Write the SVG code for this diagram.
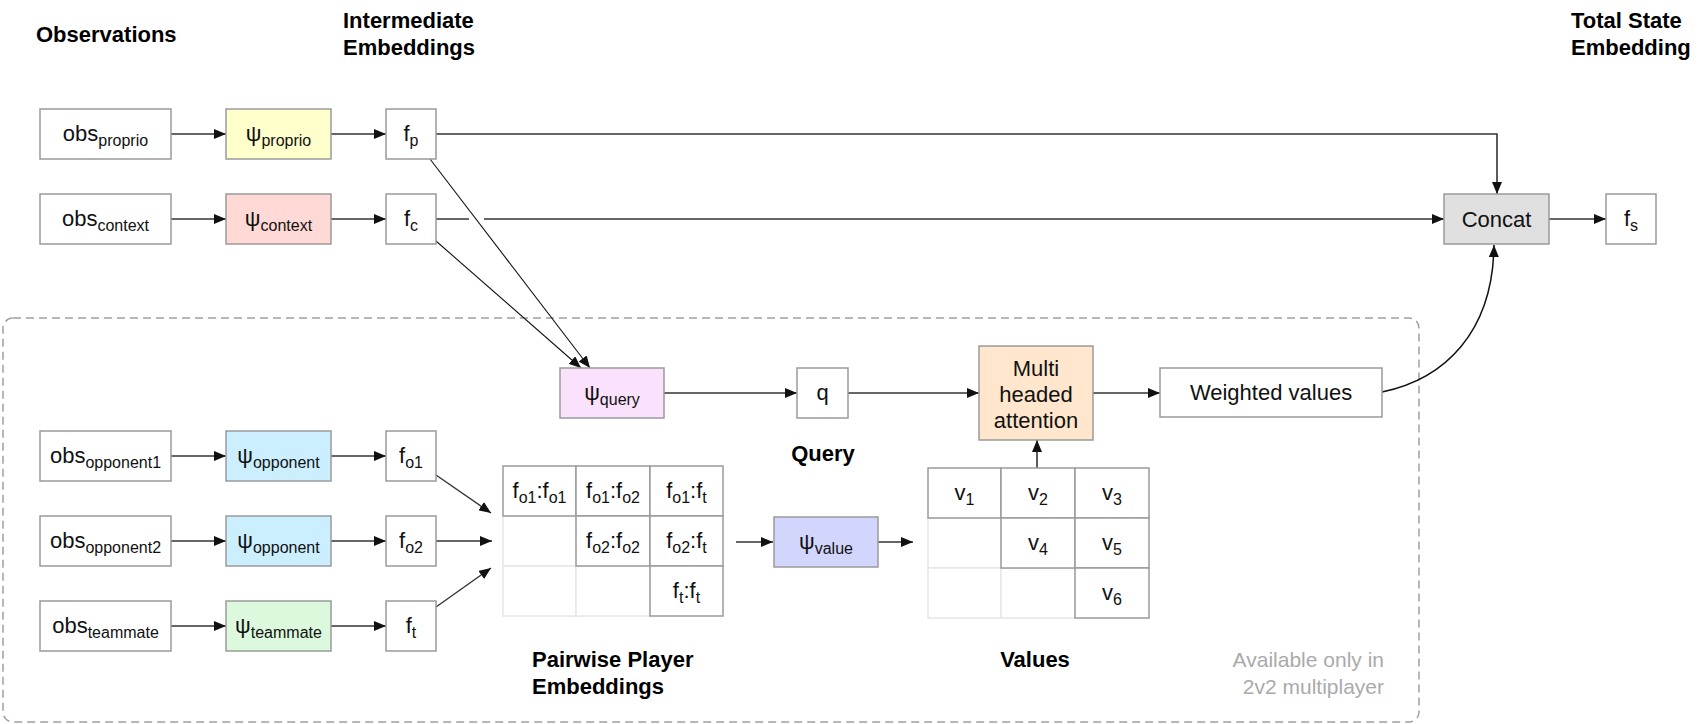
<svg xmlns="http://www.w3.org/2000/svg" width="1698" height="724" viewBox="0 0 1698 724">
<style>
.box{stroke:#9a9a9a;stroke-width:1.5}
.t{font-family:"Liberation Sans",Arial,Helvetica,sans-serif;font-size:22px;fill:#111}
.c{text-anchor:middle}
.h{font-family:"Liberation Sans",Arial,Helvetica,sans-serif;font-size:22px;font-weight:bold;fill:#000}
.g{font-family:"Liberation Sans",Arial,Helvetica,sans-serif;font-size:21px;fill:#aaa;text-anchor:end}
.s{font-size:16px}
.ln{stroke:#333;stroke-width:1.6;fill:none}
.thin{stroke:#111;stroke-width:1.1;fill:none}
.light{stroke:#e6e6e6;stroke-width:1.5;fill:#fff}
.cell{stroke:#9a9a9a;stroke-width:1.5;fill:#fff}
</style>
<defs>
<marker id="ah" viewBox="0 0 12 10" refX="12" refY="5" markerWidth="12" markerHeight="10" markerUnits="userSpaceOnUse" orient="auto">
<path d="M0,0 L12,5 L0,10 z" fill="#111"/>
</marker>
</defs>

<g id="region">
<rect x="3" y="318" width="1416" height="404" rx="10" ry="10" fill="none" stroke="#a0a0a0" stroke-width="1.5" stroke-dasharray="8 5"/>
</g>

<g id="headers">
<text class="h" x="36" y="42">Observations</text>
<text class="h" x="343" y="28">Intermediate</text>
<text class="h" x="343" y="55">Embeddings</text>
<text class="h" x="1571" y="28">Total State</text>
<text class="h" x="1571" y="55">Embedding</text>
<text class="h" x="823" y="461" text-anchor="middle">Query</text>
<text class="h" x="532" y="667">Pairwise Player</text>
<text class="h" x="532" y="694">Embeddings</text>
<text class="h" x="1035" y="667" text-anchor="middle">Values</text>
<text class="g" x="1384" y="667">Available only in</text>
<text class="g" x="1384" y="694">2v2 multiplayer</text>
</g>

<g id="connectors">
<line class="ln" x1="171" y1="134" x2="226" y2="134" marker-end="url(#ah)"/>
<line class="ln" x1="331" y1="134" x2="386" y2="134" marker-end="url(#ah)"/>
<line class="ln" x1="171" y1="219" x2="226" y2="219" marker-end="url(#ah)"/>
<line class="ln" x1="331" y1="219" x2="386" y2="219" marker-end="url(#ah)"/>
<polyline class="ln" points="436,134 1497,134 1497,194" marker-end="url(#ah)"/>
<line class="ln" x1="436" y1="219" x2="469" y2="219"/>
<line class="ln" x1="484" y1="219" x2="1444" y2="219" marker-end="url(#ah)"/>
<line class="ln" x1="1549" y1="219" x2="1606" y2="219" marker-end="url(#ah)"/>
<line class="thin" x1="430" y1="159" x2="590" y2="368" marker-end="url(#ah)"/>
<line class="thin" x1="436" y1="241" x2="581" y2="368" marker-end="url(#ah)"/>
<line class="ln" x1="664" y1="393" x2="797" y2="393" marker-end="url(#ah)"/>
<line class="ln" x1="848" y1="393" x2="979" y2="393" marker-end="url(#ah)"/>
<line class="ln" x1="1093" y1="393" x2="1160" y2="393" marker-end="url(#ah)"/>
<path class="thin" style="stroke-width:1.5" d="M1382,392 C1445,379 1493,332 1494,245" marker-end="url(#ah)"/>
<line class="ln" x1="171" y1="456" x2="226" y2="456" marker-end="url(#ah)"/>
<line class="ln" x1="331" y1="456" x2="386" y2="456" marker-end="url(#ah)"/>
<line class="ln" x1="171" y1="541" x2="226" y2="541" marker-end="url(#ah)"/>
<line class="ln" x1="331" y1="541" x2="386" y2="541" marker-end="url(#ah)"/>
<line class="ln" x1="171" y1="626" x2="226" y2="626" marker-end="url(#ah)"/>
<line class="ln" x1="331" y1="626" x2="386" y2="626" marker-end="url(#ah)"/>
<line class="ln" style="stroke-width:1.4" x1="436" y1="475" x2="491" y2="513" marker-end="url(#ah)"/>
<line class="ln" x1="436" y1="541" x2="492" y2="541" marker-end="url(#ah)"/>
<line class="ln" style="stroke-width:1.4" x1="436" y1="607" x2="491" y2="568" marker-end="url(#ah)"/>
<line class="ln" x1="736" y1="542" x2="773" y2="542" marker-end="url(#ah)"/>
<line class="ln" x1="878" y1="542" x2="913" y2="542" marker-end="url(#ah)"/>
<line class="ln" x1="1037" y1="468" x2="1037" y2="440" marker-end="url(#ah)"/>
</g>

<g id="obs_proprio"><rect class="box" x="40" y="109" width="131" height="50" fill="#fff"/><text class="t c" x="105.5" y="141">obs<tspan class="s" dy="5">proprio</tspan></text></g>
<g id="psi_proprio"><rect class="box" x="226" y="109" width="105" height="50" fill="#ffffcc"/><text class="t c" x="278.5" y="141">ψ<tspan class="s" dy="5">proprio</tspan></text></g>
<g id="f_p"><rect class="box" x="386" y="109" width="50" height="50" fill="#fff"/><text class="t c" x="411" y="141">f<tspan class="s" dy="5">p</tspan></text></g>

<g id="obs_context"><rect class="box" x="40" y="194" width="131" height="50" fill="#fff"/><text class="t c" x="105.5" y="226">obs<tspan class="s" dy="5">context</tspan></text></g>
<g id="psi_context"><rect class="box" x="226" y="194" width="105" height="50" fill="#ffd9d5"/><text class="t c" x="278.5" y="226">ψ<tspan class="s" dy="5">context</tspan></text></g>
<g id="f_c"><rect class="box" x="386" y="194" width="50" height="50" fill="#fff"/><text class="t c" x="411" y="226">f<tspan class="s" dy="5">c</tspan></text></g>

<g id="concat"><rect class="box" x="1444" y="194" width="105" height="50" fill="#e0e0e0"/><text class="t c" x="1496.5" y="227">Concat</text></g>
<g id="f_s"><rect class="box" x="1606" y="194" width="50" height="50" fill="#fff"/><text class="t c" x="1631" y="226">f<tspan class="s" dy="5">s</tspan></text></g>

<g id="psi_query"><rect class="box" x="560" y="368" width="104" height="50" fill="#fae2fc"/><text class="t c" x="612" y="400">ψ<tspan class="s" dy="5">query</tspan></text></g>
<g id="q"><rect class="box" x="797" y="368" width="51" height="50" fill="#fff"/><text class="t c" x="822.5" y="400">q</text></g>
<g id="attention"><rect class="box" x="979" y="346" width="114" height="94" fill="#ffe6cc"/><text class="t c" x="1036" y="376">Multi</text><text class="t c" x="1036" y="402">headed</text><text class="t c" x="1036" y="428">attention</text></g>
<g id="weighted_values"><rect class="box" x="1160" y="368" width="222" height="49" fill="#fff"/><text class="t c" x="1271" y="400">Weighted values</text></g>

<g id="obs_opponent1"><rect class="box" x="40" y="431" width="131" height="50" fill="#fff"/><text class="t c" x="105.5" y="463">obs<tspan class="s" dy="5">opponent1</tspan></text></g>
<g id="psi_opponent1"><rect class="box" x="226" y="431" width="105" height="50" fill="#ccefff"/><text class="t c" x="278.5" y="463">ψ<tspan class="s" dy="5">opponent</tspan></text></g>
<g id="f_o1"><rect class="box" x="386" y="431" width="50" height="50" fill="#fff"/><text class="t c" x="411" y="463">f<tspan class="s" dy="5">o1</tspan></text></g>

<g id="obs_opponent2"><rect class="box" x="40" y="516" width="131" height="50" fill="#fff"/><text class="t c" x="105.5" y="548">obs<tspan class="s" dy="5">opponent2</tspan></text></g>
<g id="psi_opponent2"><rect class="box" x="226" y="516" width="105" height="50" fill="#ccefff"/><text class="t c" x="278.5" y="548">ψ<tspan class="s" dy="5">opponent</tspan></text></g>
<g id="f_o2"><rect class="box" x="386" y="516" width="50" height="50" fill="#fff"/><text class="t c" x="411" y="548">f<tspan class="s" dy="5">o2</tspan></text></g>

<g id="obs_teammate"><rect class="box" x="40" y="601" width="131" height="50" fill="#fff"/><text class="t c" x="105.5" y="633">obs<tspan class="s" dy="5">teammate</tspan></text></g>
<g id="psi_teammate"><rect class="box" x="226" y="601" width="105" height="50" fill="#ddf9dd"/><text class="t c" x="278.5" y="633">ψ<tspan class="s" dy="5">teammate</tspan></text></g>
<g id="f_t"><rect class="box" x="386" y="601" width="50" height="50" fill="#fff"/><text class="t c" x="411" y="633">f<tspan class="s" dy="5">t</tspan></text></g>

<g id="pairwise_matrix">
<rect class="light" x="503" y="516" width="73" height="50"/>
<rect class="light" x="503" y="566" width="73" height="50"/>
<rect class="light" x="576" y="566" width="74" height="50"/>
<rect class="cell" x="503" y="466" width="73" height="50"/>
<rect class="cell" x="576" y="466" width="74" height="50"/>
<rect class="cell" x="650" y="466" width="73" height="50"/>
<rect class="cell" x="576" y="516" width="74" height="50"/>
<rect class="cell" x="650" y="516" width="73" height="50"/>
<rect class="cell" x="650" y="566" width="73" height="50"/>
<text class="t c" x="539.5" y="498">f<tspan class="s" dy="5">o1</tspan><tspan dy="-5">:f</tspan><tspan class="s" dy="5">o1</tspan></text>
<text class="t c" x="613" y="498">f<tspan class="s" dy="5">o1</tspan><tspan dy="-5">:f</tspan><tspan class="s" dy="5">o2</tspan></text>
<text class="t c" x="686.5" y="498">f<tspan class="s" dy="5">o1</tspan><tspan dy="-5">:f</tspan><tspan class="s" dy="5">t</tspan></text>
<text class="t c" x="613" y="548">f<tspan class="s" dy="5">o2</tspan><tspan dy="-5">:f</tspan><tspan class="s" dy="5">o2</tspan></text>
<text class="t c" x="686.5" y="548">f<tspan class="s" dy="5">o2</tspan><tspan dy="-5">:f</tspan><tspan class="s" dy="5">t</tspan></text>
<text class="t c" x="686.5" y="598">f<tspan class="s" dy="5">t</tspan><tspan dy="-5">:f</tspan><tspan class="s" dy="5">t</tspan></text>
</g>

<g id="psi_value"><rect class="box" x="774" y="517" width="104" height="50" fill="#d2d5fc"/><text class="t c" x="826" y="549">ψ<tspan class="s" dy="5">value</tspan></text></g>

<g id="values_matrix">
<rect class="light" x="928" y="518" width="73" height="50"/>
<rect class="light" x="928" y="568" width="73" height="50"/>
<rect class="light" x="1001" y="568" width="74" height="50"/>
<rect class="cell" x="928" y="468" width="73" height="50"/>
<rect class="cell" x="1001" y="468" width="74" height="50"/>
<rect class="cell" x="1075" y="468" width="74" height="50"/>
<rect class="cell" x="1001" y="518" width="74" height="50"/>
<rect class="cell" x="1075" y="518" width="74" height="50"/>
<rect class="cell" x="1075" y="568" width="74" height="50"/>
<text class="t c" x="964.5" y="500">v<tspan class="s" dy="5">1</tspan></text>
<text class="t c" x="1038" y="500">v<tspan class="s" dy="5">2</tspan></text>
<text class="t c" x="1112" y="500">v<tspan class="s" dy="5">3</tspan></text>
<text class="t c" x="1038" y="550">v<tspan class="s" dy="5">4</tspan></text>
<text class="t c" x="1112" y="550">v<tspan class="s" dy="5">5</tspan></text>
<text class="t c" x="1112" y="600">v<tspan class="s" dy="5">6</tspan></text>
</g>
</svg>
